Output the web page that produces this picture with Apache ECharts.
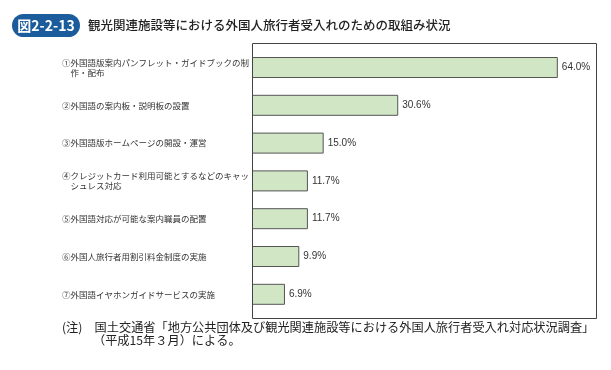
<!DOCTYPE html>
<html><head><meta charset="utf-8">
<script src="https://cdn.jsdelivr.net/npm/echarts@6/dist/echarts.min.js"></script>
<style>html,body{margin:0;padding:0;background:#fff}#c{width:611px;height:370px}</style>
</head><body><div id="c"></div>
<script>
const categories = [
  "①外国語版案内パンフレット・ガイドブックの制\n　作・配布",
  "②外国語の案内板・説明板の設置",
  "③外国語版ホームページの開設・運営",
  "④クレジットカード利用可能とするなどのキャッ\n　シュレス対応",
  "⑤外国語対応が可能な案内職員の配置",
  "⑥外国人旅行者用割引料金制度の実施",
  "⑦外国語イヤホンガイドサービスの実施"
];
const values = [64.0, 30.6, 15.0, 11.7, 11.7, 9.9, 6.9];
const titleBadge = "図2-2-13";
const titleText = "観光関連施設等における外国人旅行者受入れのための取組み状況";
const noteLine1 = "(注)　国土交通省「地方公共団体及び観光関連施設等における外国人旅行者受入れ対応状況調査」";
const noteLine2 = "（平成15年３月）による。";

const chart = echarts.init(document.getElementById('c'), null, {renderer: 'canvas'});
const cjk = '"Noto Sans CJK JP", sans-serif';
chart.setOption({
  animation: false,
  backgroundColor: '#fff',
  grid: {left: 252, right: 14, top: 48.6, height: 264.6, containLabel: false},
  xAxis: {type: 'value', min: 0, max: 72.2, show: false},
  yAxis: {
    type: 'category', data: categories, inverse: true,
    axisLine: {show: false}, axisTick: {show: false}, splitLine: {show: false},
    axisLabel: {align: 'left', margin: 190, fontSize: 8.5, lineHeight: 10, color: '#333', fontFamily: cjk}
  },
  series: [{
    type: 'bar', data: values, barWidth: 21,
    itemStyle: {color: '#d0e6c5', borderColor: '#555', borderWidth: 1},
    label: {show: true, position: 'right', distance: 4, fontSize: 10, color: '#333',
      fontFamily: '"Liberation Sans", Arial, sans-serif',
      formatter: p => p.value.toFixed(1) + '%'}
  }],
  graphic: [
    {type: 'rect', shape: {x: 252.5, y: 43.5, width: 344, height: 275}, style: {fill: 'none', stroke: '#444', lineWidth: 1}, z: 10},
    {type: 'rect', shape: {x: 12, y: 14, width: 68, height: 23, r: 11.5}, style: {fill: '#1b5c9c'}},
    {type: 'text', x: 46, y: 25.5, style: {text: titleBadge, fill: '#fff', font: 'bold 14px "Noto Sans CJK JP", sans-serif', textAlign: 'center', textVerticalAlign: 'middle'}},
    {type: 'text', x: 88, y: 25.5, style: {text: titleText, fill: '#222', font: '500 12.5px "Noto Sans CJK JP", sans-serif', textVerticalAlign: 'middle'}},
    {type: 'text', x: 62, y: 327, style: {text: noteLine1, fill: '#222', font: '12.2px "Noto Sans CJK JP", sans-serif', textVerticalAlign: 'middle'}},
    {type: 'text', x: 93, y: 340, style: {text: noteLine2, fill: '#222', font: '12.2px "Noto Sans CJK JP", sans-serif', textVerticalAlign: 'middle'}}
  ]
});
</script></body></html>
